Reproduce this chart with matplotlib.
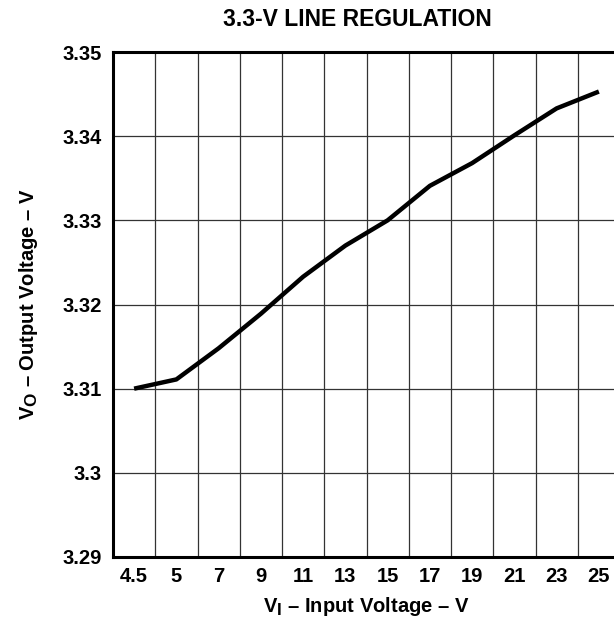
import matplotlib
matplotlib.use("Agg")
import matplotlib.pyplot as plt
import matplotlib._mathtext as _mt
import numpy as np

plt.rcParams['font.family'] = ['Liberation Sans', 'DejaVu Sans']
plt.rcParams['mathtext.fontset'] = 'custom'
plt.rcParams['mathtext.rm'] = 'Liberation Sans:bold'
plt.rcParams['mathtext.it'] = 'Liberation Sans:bold'
plt.rcParams['mathtext.bf'] = 'Liberation Sans:bold'
try:
    _mt.SHRINK_FACTOR = 0.85
except Exception:
    pass

# Data
input_labels = ['4.5', '5', '7', '9', '11', '13', '15', '17', '19', '21', '23', '25']
output_voltage = [3.3100, 3.3111, 3.3148, 3.3189, 3.3233, 3.3270, 3.3300,
                  3.3341, 3.3368, 3.3401, 3.3433, 3.3453]
y_ticks = [3.29, 3.30, 3.31, 3.32, 3.33, 3.34, 3.35]
y_tick_labels = ['3.29', '3.3', '3.31', '3.32', '3.33', '3.34', '3.35']

fig = plt.figure(figsize=(6.14, 6.23), dpi=100)
ax = fig.add_axes([113/614, 1-557/623, (620-113)/614, (557-52)/623])

x = np.arange(len(input_labels))
ax.plot(x, output_voltage, color='black', lw=3.2, solid_capstyle='butt', zorder=3)

ax.set_xlim(-0.5, len(input_labels) - 0.5)
ax.set_ylim(3.29, 3.35)
ax.set_xticks(x)
ax.set_xticklabels(input_labels, fontsize=14.5, fontweight='bold')
ax.set_xticks(x[:-1] + 0.5, minor=True)
ax.set_yticks(y_ticks)
ax.set_yticklabels(y_tick_labels, fontsize=14.5, fontweight='bold')
ax.tick_params(axis='both', which='both', length=0)
ax.tick_params(axis='y', pad=8)
ax.tick_params(axis='x', pad=7)

ax.grid(True, which='minor', axis='x', color='#333333', lw=0.9)
ax.grid(True, which='major', axis='y', color='#333333', lw=0.9)
ax.grid(False, which='major', axis='x')

for s in ax.spines.values():
    s.set_linewidth(2.2)
    s.set_color('black')

ax.set_title('3.3-V LINE REGULATION', fontsize=16.5, fontweight='bold', pad=18.5,
             x=(357-113)/(620-113))
ax.set_xlabel(r'$\mathrm{V_I}$ – Input Voltage – V', fontsize=14.5, fontweight='bold', labelpad=7)
ax.set_ylabel(r'$\mathrm{V_O}$ – Output Voltage – V', fontsize=14.5, fontweight='bold', labelpad=16)

fig.savefig('out.png', dpi=100)
